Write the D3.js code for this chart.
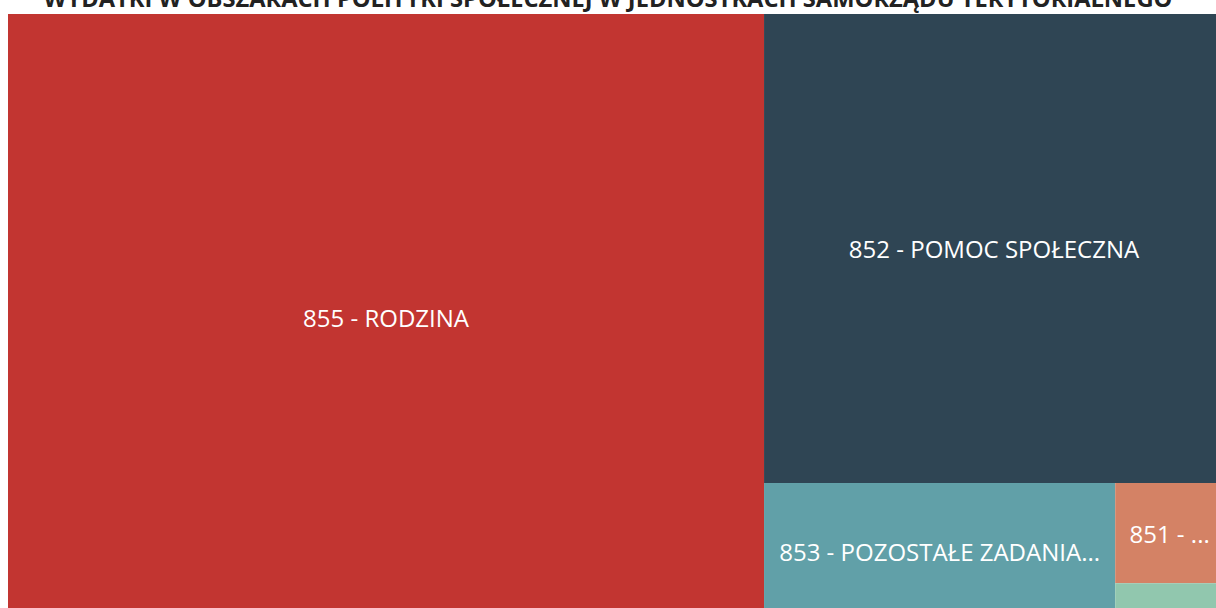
<!DOCTYPE html>
<html>
<head>
<meta charset="utf-8">
<script src="https://cdn.jsdelivr.net/npm/d3@7"></script>
<style>
  html, body { margin: 0; padding: 0; background: #ffffff; overflow: hidden; }
  svg { display: block; }
</style>
</head>
<body>
<svg id="chart" width="1216" height="608"></svg>
<script>
// Expenditure areas of local-government social policy (division 85x)
const title = "WYDATKI W OBSZARACH POLITYKI SPOŁECZNEJ W JEDNOSTKACH SAMORZĄDU TERYTORIALNEGO";
const codes = ["855", "852", "853", "851", "854"];
const names = [
  "RODZINA",
  "POMOC SPOŁECZNA",
  "POZOSTAŁE ZADANIA W ZAKRESIE POLITYKI SPOŁECZNEJ",
  "OCHRONA ZDROWIA",
  "EDUKACYJNA OPIEKA WYCHOWAWCZA"
];
const values = [45.81, 21.57, 4.81, 1.09, 0.40];
const palette = ["#c23531", "#2f4554", "#61a0a8", "#d48265", "#91c7ae"];

const svg = d3.select("#chart");

// Plot area of the treemap (it runs slightly past the page edges)
const area = { left: 8, top: 14, width: 1216, height: 606 };
const labelFont = { family: "'Open Sans', sans-serif", size: 24 };
const labelPad = 5;

const root = d3.hierarchy({
  children: codes.map((c, i) => ({ code: c, name: names[i], value: values[i], color: palette[i] }))
})
  .sum(d => d.value || 0)
  .sort((a, b) => b.value - a.value);

d3.treemap()
  .tile(d3.treemapSquarify)
  .size([area.width, area.height])
  (root);

const g = svg.append("g").attr("transform", `translate(${area.left},${area.top})`);

const cells = g.selectAll("g.cell")
  .data(root.leaves())
  .join("g")
  .attr("class", "cell")
  .attr("transform", d => `translate(${d.x0},${d.y0})`);

cells.append("rect")
  .attr("width", d => d.x1 - d.x0)
  .attr("height", d => d.y1 - d.y0)
  .attr("fill", d => d.data.color);

// Label text: cut at word boundaries and end with "..." when it is too wide
const label = cells.append("text")
  .attr("x", d => (d.x1 - d.x0) / 2)
  .attr("y", d => (d.y1 - d.y0) / 2)
  .attr("text-anchor", "middle")
  .attr("dominant-baseline", "central")
  .attr("fill", "#ffffff")
  .style("font-family", labelFont.family)
  .style("font-size", labelFont.size + "px");

label.each(function (d) {
  const el = d3.select(this);
  const w = d.x1 - d.x0 - 2 * labelPad;
  const h = d.y1 - d.y0 - 2 * labelPad;
  if (h < labelFont.size * 1.25) { el.remove(); return; }
  const full = `${d.data.code} - ${d.data.name}`;
  el.text(full);
  if (this.getComputedTextLength() <= w) return;
  const words = full.split(" ");
  for (let k = words.length - 1; k >= 1; k--) {
    const prefix = words.slice(0, k).join(" ");
    const txt = prefix + (/[\p{L}\p{N}]$/u.test(prefix) ? "" : " ") + "...";
    el.text(txt);
    if (this.getComputedTextLength() <= w) return;
  }
  el.text("...");
});

// Chart title
svg.append("text")
  .attr("x", 608)
  .attr("y", 7)
  .attr("text-anchor", "middle")
  .attr("fill", "#222222")
  .style("font-family", "'Open Sans', sans-serif")
  .style("font-weight", "700")
  .style("font-size", "23.7px")
  .text(title);
</script>
</body>
</html>
